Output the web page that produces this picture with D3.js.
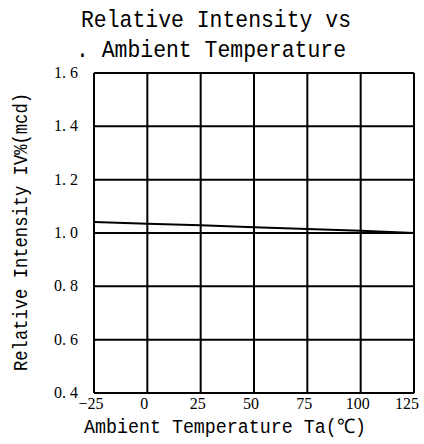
<!DOCTYPE html>
<html><head><meta charset="utf-8">
<script src="https://cdn.jsdelivr.net/npm/d3@7"></script>
<style>body{margin:0;background:#fff}</style>
</head><body>
<script>
const temps = [-25, 0, 25, 50, 75, 100, 125];
const intensity = [1.041, 1.035, 1.029, 1.022, 1.015, 1.008, 1.0];
const xTicks = [-25, 0, 25, 50, 75, 100, 125];
const yTicks = [0.4, 0.6, 0.8, 1.0, 1.2, 1.4, 1.6];
const titleLines = ["Relative Intensity vs", ". Ambient Temperature"];
const xTitle = "Ambient Temperature Ta(℃)";
const yTitle = "Relative Intensity IV%(mcd)";

const W = 424, H = 444;
const m = {left: 94, right: 414, top: 73, bottom: 393};
const svg = d3.select("body").append("svg").attr("width", W).attr("height", H);
const x = d3.scaleLinear().domain([-25, 125]).range([m.left, m.right]);
const y = d3.scaleLinear().domain([0.4, 1.6]).range([m.bottom, m.top]);
const mono = "'Liberation Mono', monospace";
const serif = "'Liberation Serif', serif";

// grid
svg.append("g").selectAll("line").data(xTicks).join("line")
  .attr("x1", d => x(d)).attr("x2", d => x(d)).attr("y1", m.top).attr("y2", m.bottom)
  .attr("stroke", "#000").attr("stroke-width", 2);
svg.append("g").selectAll("line").data(yTicks).join("line")
  .attr("y1", d => y(d)).attr("y2", d => y(d)).attr("x1", m.left).attr("x2", m.right)
  .attr("stroke", "#000").attr("stroke-width", 2);

// curve
svg.append("path").datum(temps.map((t, i) => [t, intensity[i]]))
  .attr("d", d3.line().x(d => x(d[0])).y(d => y(d[1])))
  .attr("fill", "none").attr("stroke", "#000").attr("stroke-width", 2);

// tick labels
svg.append("g").selectAll("text").data(yTicks).join("text")
  .attr("x", 78).attr("y", d => y(d) + 5).attr("text-anchor", "end")
  .attr("font-family", serif).attr("font-size", 16)
  .text(d => d.toFixed(1).replace(".", ". "));
svg.append("g").selectAll("text").data(xTicks).join("text")
  .attr("x", (d, i) => i === xTicks.length - 1 ? 419 : x(d) - 3)
  .attr("y", 409)
  .attr("text-anchor", (d, i) => i === xTicks.length - 1 ? "end" : "middle")
  .attr("font-family", serif).attr("font-size", 16)
  .text(d => d < 0 ? "\u2212" + Math.abs(d) : d);

// titles
svg.append("g").selectAll("text").data(titleLines).join("text")
  .attr("x", (d, i) => i === 0 ? 216 : 211).attr("y", (d, i) => 27 + i * 30).attr("text-anchor", "middle")
  .attr("font-family", mono).attr("font-size", 24)
  .attr("textLength", 270).attr("lengthAdjust", "spacingAndGlyphs").text(d => d);
svg.append("text").attr("x", 225).attr("y", 433).attr("text-anchor", "middle")
  .attr("font-family", mono).attr("font-size", 20)
  .attr("textLength", 282).attr("lengthAdjust", "spacingAndGlyphs").text(xTitle);
svg.append("text").attr("transform", "translate(27,232) rotate(-90)").attr("text-anchor", "middle")
  .attr("font-family", mono).attr("font-size", 20)
  .attr("textLength", 278).attr("lengthAdjust", "spacingAndGlyphs").text(yTitle);
</script>
</body></html>
